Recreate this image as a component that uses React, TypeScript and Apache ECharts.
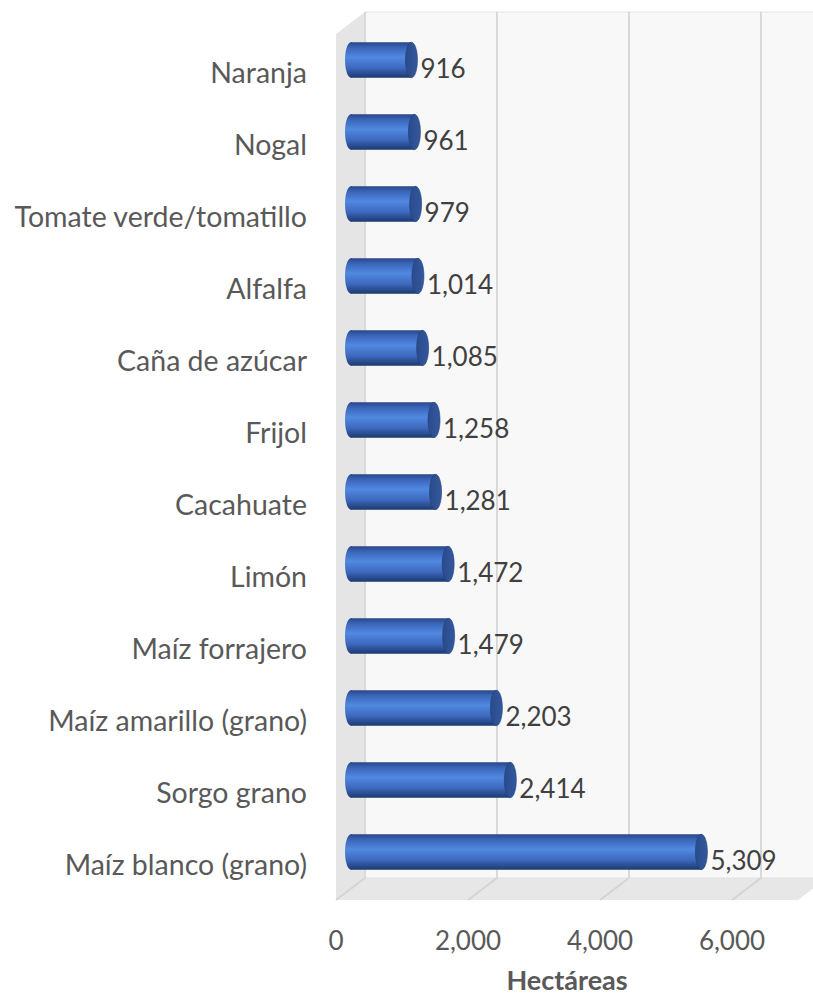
import React, { useEffect, useRef } from "react";
import * as echarts from "echarts";

const categories = [
  "Naranja",
  "Nogal",
  "Tomate verde/tomatillo",
  "Alfalfa",
  "Caña de azúcar",
  "Frijol",
  "Cacahuate",
  "Limón",
  "Maíz forrajero",
  "Maíz amarillo (grano)",
  "Sorgo grano",
  "Maíz blanco (grano)",
];
const values = [916, 961, 979, 1014, 1085, 1258, 1281, 1472, 1479, 2203, 2414, 5309];
const tickValues = [0, 2000, 4000, 6000];
const axisMax = 7000;
const axisInterval = 2000;
const axisTitle = "Hectáreas";

const FONT = "Lato";

export default function App() {
  const ref = useRef<HTMLDivElement>(null);
  useEffect(() => {
    if (!ref.current) return;
    const chart = echarts.init(ref.current, undefined, { renderer: "svg" });
    const bodyGrad = () =>
      new echarts.graphic.LinearGradient(0, 0, 0, 1, [
        { offset: 0, color: "#284887" },
        { offset: 0.15, color: "#3a65ba" },
        { offset: 0.42, color: "#5189e0" },
        { offset: 0.72, color: "#3d69bf" },
        { offset: 1, color: "#1d3a70" },
      ]);
    const capGrad = () =>
      new echarts.graphic.LinearGradient(0, 0, 1, 0, [
        { offset: 0, color: "#2a4b8c" },
        { offset: 1, color: "#34589e" },
      ]);
    const option: any = {
      animation: false,
      graphic: [
        {
          type: "polygon",
          z: -5,
          shape: { points: [[336, 34], [365, 12], [365, 878], [336, 900]] },
          style: { fill: "#e5e5e5" },
        },
        {
          type: "polygon",
          z: -5,
          shape: { points: [[336, 900], [365, 878], [827, 878], [798, 900]] },
          style: { fill: "#e7e7e7" },
        },
      ],
      grid: [
        {
          left: 365,
          top: 12,
          width: 462,
          height: 866,
          show: true,
          backgroundColor: "#f8f8f8",
          borderColor: "#e2e2e2",
          borderWidth: 1,
          outerBoundsMode: "none",
          containLabel: false,
        },
        { left: 351, top: 24, width: 462, height: 864, outerBoundsMode: "none", containLabel: false },
        { left: 336, top: 36, width: 462, height: 864, outerBoundsMode: "none", containLabel: false },
      ],
      xAxis: [
        {
          gridIndex: 0,
          type: "value",
          min: 0,
          max: axisMax,
          interval: axisInterval,
          axisLine: { show: false },
          axisTick: { show: false },
          axisLabel: { show: false },
          splitLine: { show: true, lineStyle: { color: "#d9d9d9", width: 2 } },
        },
        {
          gridIndex: 1,
          type: "value",
          min: 0,
          max: axisMax,
          show: false,
        },
        {
          gridIndex: 2,
          type: "value",
          min: 0,
          max: axisMax,
          interval: axisInterval,
          axisLine: { show: false },
          axisTick: { show: false },
          splitLine: { show: false },
          axisLabel: {
            showMaxLabel: false,
            margin: 27,
            color: "#595959",
            fontSize: 26,
            fontFamily: FONT,
            formatter: (v: number) => v.toLocaleString("en-US"),
          },
          name: axisTitle,
          nameLocation: "middle",
          nameGap: 66,
          nameTextStyle: {
            color: "#595959",
            fontSize: 27,
            fontWeight: "bold",
            fontFamily: FONT,
          },
        },
      ],
      yAxis: [
        { gridIndex: 0, type: "value", show: false },
        {
          gridIndex: 1,
          type: "category",
          data: categories,
          inverse: true,
          show: false,
        },
        {
          gridIndex: 2,
          type: "category",
          data: categories,
          inverse: true,
          axisLine: { show: false },
          axisTick: { show: false },
          splitLine: { show: false },
          axisLabel: {
            margin: 29,
            color: "#595959",
            fontSize: 28.5,
            fontFamily: FONT,
          },
        },
      ],
      series: [
        {
          type: "custom",
          xAxisIndex: 2,
          yAxisIndex: 2,
          data: tickValues.map((t) => [t, 0]),
          silent: true,
          z: 1,
          renderItem: (params: any, api: any) => {
            const cs = params.coordSys;
            const p = api.coord([api.value(0), 0]);
            const bottom = cs.y + cs.height;
            return {
              type: "line",
              shape: { x1: p[0], y1: bottom, x2: p[0] + 29, y2: bottom - 22 },
              style: { stroke: "#d4d4d4", lineWidth: 2 },
            };
          },
        },
        {
          type: "custom",
          xAxisIndex: 1,
          yAxisIndex: 1,
          data: values.map((v, i) => [v, i]),
          z: 5,
          renderItem: (params: any, api: any) => {
            const idx = api.value(1);
            const v = api.value(0);
            const s = api.coord([0, idx]);
            const e = api.coord([v, idx]);
            const h = api.size([0, 1])[1] * 0.49;
            return {
              type: "group",
              children: [
                {
                  type: "ellipse",
                  shape: { cx: s[0], cy: s[1], rx: 6, ry: h / 2 },
                  style: { fill: bodyGrad() },
                },
                {
                  type: "rect",
                  shape: { x: s[0], y: s[1] - h / 2, width: e[0] - s[0], height: h },
                  style: { fill: bodyGrad() },
                },
                {
                  type: "ellipse",
                  shape: { cx: e[0], cy: e[1], rx: 6, ry: h / 2 },
                  style: { fill: capGrad(), stroke: "#223f78", lineWidth: 0.6 },
                },
                {
                  type: "text",
                  x: e[0] + 9,
                  y: e[1] + 8,
                  style: {
                    text: v.toLocaleString("en-US"),
                    fill: "#404040",
                    fontSize: 26,
                    fontFamily: FONT,
                    verticalAlign: "middle",
                    align: "left",
                  },
                },
              ],
            };
          },
        },
      ],
    };
    chart.setOption(option);
    return () => chart.dispose();
  }, []);
  return (
    <div
      ref={ref}
      style={{ position: "absolute", left: 0, top: 0, width: 813, height: 995 }}
    />
  );
}
